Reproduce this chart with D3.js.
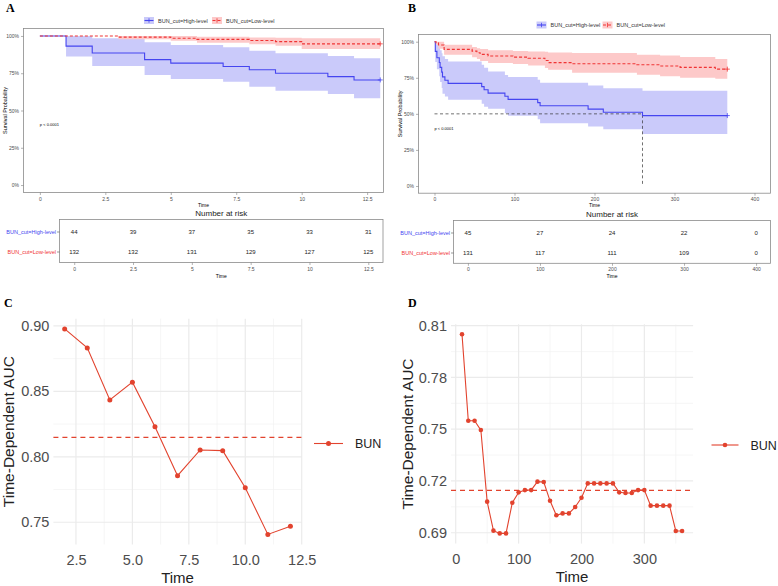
<!DOCTYPE html>
<html>
<head>
<meta charset="utf-8">
<style>
body { margin: 0; background: #fff; }
text { font-family: "Liberation Sans", Arial, sans-serif; }
.letter { font-family: "Liberation Serif", serif; font-weight: bold; font-size: 12px; fill: #000; }
.km .tick text { font-size: 5px; fill: #4d4d4d; }
.km .tick line { stroke: #7f7f7f; stroke-width: 0.6px; }
.km .domain { display: none; }
.auc .tick text { font-size: 14.5px; fill: #4d4d4d; }
.auc .tick line, .auc .domain { display: none; }
</style>
<title></title></head>
<body>
<script src="https://cdn.jsdelivr.net/npm/d3@7/dist/d3.min.js"></script>
<script>

// ---------- panel A: Kaplan-Meier, time in years ----------
var aHighTime  = [0, 1, 2, 4, 5, 7, 8, 9, 11, 12, 13];
var aHighSurv  = [1, 0.932, 0.886, 0.841, 0.818, 0.795, 0.773, 0.750, 0.727, 0.705, 0.705];
var aHighLower = [1, 0.862, 0.799, 0.738, 0.711, 0.693, 0.660, 0.633, 0.611, 0.582, 0.582];
var aHighUpper = [1, 1.000, 0.984, 0.958, 0.940, 0.924, 0.901, 0.884, 0.866, 0.850, 0.850];

var aLowTime  = [0, 3, 5, 6, 8, 9, 10, 13];
var aLowSurv  = [1, 0.992, 0.985, 0.977, 0.970, 0.962, 0.947, 0.947];
var aLowLower = [1, 0.978, 0.968, 0.955, 0.945, 0.935, 0.912, 0.912];
var aLowUpper = [1, 1.000, 1.000, 0.995, 0.990, 0.988, 0.984, 0.984];

var aTicks = [0, 2.5, 5, 7.5, 10, 12.5];
var aRiskHigh = [44, 39, 37, 35, 33, 31];
var aRiskLow  = [132, 132, 131, 129, 127, 125];

// ---------- panel B: Kaplan-Meier, time in days ----------
var bHighTime  = [0, 1, 3, 6, 7, 9, 10, 13, 17, 59, 62, 67, 88, 92, 129, 132, 192, 211, 260, 366];
var bHighSurv  = [1, 0.933, 0.889, 0.856, 0.822, 0.789, 0.756, 0.733, 0.711, 0.689, 0.667, 0.644, 0.622, 0.600, 0.578, 0.556, 0.533, 0.511, 0.488, 0.488];
var bHighLower = [1, 0.860, 0.810, 0.760, 0.720, 0.680, 0.640, 0.620, 0.597, 0.570, 0.550, 0.535, 0.505, 0.486, 0.463, 0.435, 0.412, 0.394, 0.361, 0.361];
var bHighUpper = [1, 1.000, 0.980, 0.960, 0.940, 0.920, 0.900, 0.880, 0.863, 0.840, 0.820, 0.794, 0.770, 0.755, 0.736, 0.715, 0.697, 0.678, 0.660, 0.660];

var bLowTime  = [0, 2, 5, 12, 47, 53, 57, 67, 98, 117, 138, 142, 172, 253, 282, 307, 351, 366];
var bLowSurv  = [1, 0.992, 0.977, 0.947, 0.935, 0.924, 0.912, 0.901, 0.893, 0.885, 0.870, 0.855, 0.847, 0.840, 0.832, 0.822, 0.810, 0.810];
var bLowLower = [1, 0.977, 0.952, 0.909, 0.893, 0.880, 0.866, 0.853, 0.845, 0.835, 0.818, 0.806, 0.785, 0.771, 0.760, 0.750, 0.743, 0.743];
var bLowUpper = [1, 1.000, 1.000, 0.979, 0.963, 0.955, 0.949, 0.940, 0.935, 0.933, 0.930, 0.925, 0.921, 0.909, 0.905, 0.894, 0.880, 0.880];

var bMedian = 260;
var bTicks = [0, 100, 200, 300, 400];
var bRiskHigh = [45, 27, 24, 22, 0];
var bRiskLow  = [131, 117, 111, 109, 0];

var pctTicks = [0, 0.25, 0.5, 0.75, 1];
var groupNames = ["BUN_cut=High-level", "BUN_cut=Low-level"];

// ---------- panel C / D: time-dependent AUC ----------
var cTime = [2, 3, 4, 5, 6, 7, 8, 9, 10, 11, 12];
var cAuc  = [0.8977, 0.8832, 0.8434, 0.8570, 0.8230, 0.7856, 0.8052, 0.8047, 0.7764, 0.7407, 0.7469];
var cTicksX = [2.5, 5.0, 7.5, 10.0, 12.5];
var cTicksY = [0.75, 0.80, 0.85, 0.90];

var dTime = [10, 20, 30, 40, 50, 60, 70, 80, 90, 100, 110, 120, 130, 140, 150, 160, 170, 180,
             190, 200, 210, 220, 230, 240, 250, 260, 270, 280, 290, 300, 310, 320, 330, 340, 350, 360];
var dAuc  = [0.8050, 0.7549, 0.7549, 0.7495, 0.7080, 0.6912, 0.6896, 0.6896, 0.7074, 0.7134, 0.7147, 0.7147,
             0.7196, 0.7194, 0.7085, 0.7001, 0.7012, 0.7012, 0.7049, 0.7103, 0.7186, 0.7186, 0.7186, 0.7186,
             0.7186, 0.7134, 0.7130, 0.7130, 0.7147, 0.7147, 0.7057, 0.7057, 0.7057, 0.7057, 0.6910, 0.6910];
var dTicksX = [0, 100, 200, 300];
var dTicksY = [0.69, 0.72, 0.75, 0.78, 0.81];

var blue = "#4545f0", blueFill = "#cacafa";
var red = "#f03434", redFill = "#fdc9c9";
var aucRed = "#e2432e";

var svg = d3.select("body").append("svg")
    .attr("width", 778)
    .attr("height", 586);

function series(time, surv, lower, upper) {
  return time.map(function(t, i) { return {t: t, s: surv[i], lo: lower[i], hi: upper[i]}; });
}

function drawKM(p) {
  var g = svg.append("g").attr("class", "km");
  var x = d3.scaleLinear().domain(p.xDomain).range(p.xRange);
  var y = d3.scaleLinear().domain([-0.05, 1.05]).range(p.yRange);

  var area = d3.area().curve(d3.curveStepAfter)
      .x(function(d) { return x(d.t); })
      .y0(function(d) { return y(d.lo); })
      .y1(function(d) { return y(d.hi); });
  var line = d3.line().curve(d3.curveStepAfter)
      .x(function(d) { return x(d.t); })
      .y(function(d) { return y(d.s); });

  p.groups.forEach(function(s) {
    g.append("path").datum(s.data).attr("d", area).attr("fill", s.fill);
  });

  if (p.median != null) {
    g.append("path")
      .attr("d", "M" + x(0) + "," + y(0.5) + "H" + x(p.median) + "V" + y(0))
      .attr("fill", "none").attr("stroke", "#333").attr("stroke-width", 0.7)
      .attr("stroke-dasharray", "3,2.5");
  }

  p.groups.forEach(function(s) {
    g.append("path").datum(s.data).attr("d", line)
      .attr("fill", "none").attr("stroke", s.color).attr("stroke-width", 1.1)
      .attr("stroke-dasharray", s.dash);
    var last = s.data[s.data.length - 1];
    g.append("path")
      .attr("d", "M" + (x(last.t) - 2.5) + "," + y(last.s) + "h5M" + x(last.t) + "," + (y(last.s) - 2.5) + "v5")
      .attr("stroke", s.color).attr("stroke-width", 0.8);
  });

  g.append("rect")
    .attr("x", p.xRange[0]).attr("y", p.yRange[1])
    .attr("width", p.xRange[1] - p.xRange[0]).attr("height", p.yRange[0] - p.yRange[1])
    .attr("fill", "none").attr("stroke", "#8a8a8a").attr("stroke-width", 0.8);

  g.append("g").attr("transform", "translate(0," + p.yRange[0] + ")")
    .call(d3.axisBottom(x).tickValues(p.ticks).tickSize(2.5).tickPadding(2).tickFormat(d3.format("")));
  g.append("g").attr("transform", "translate(" + p.xRange[0] + ",0)")
    .call(d3.axisLeft(y).tickValues(pctTicks).tickSize(2.5).tickPadding(2).tickFormat(d3.format(".0%")));

  g.append("text").attr("x", (p.xRange[0] + p.xRange[1]) / 2).attr("y", p.yRange[0] + 14)
    .attr("text-anchor", "middle").style("font-size", "5px").text("Time");
  g.append("text")
    .attr("transform", "translate(" + (p.xRange[0] - 17) + "," + ((p.yRange[0] + p.yRange[1]) / 2) + ") rotate(-90)")
    .attr("text-anchor", "middle").style("font-size", "5.5px").text("Survival Probability");
  g.append("text").attr("x", x(0)).attr("y", p.pY).style("font-size", "4px").text("p < 0.0001");

  // legend on top
  var lg = g.append("g").attr("transform", "translate(" + p.legendX + "," + p.legendY + ")");
  var offs = [0, p.legendGap];
  p.groups.forEach(function(s, i) {
    var k = lg.append("g").attr("transform", "translate(" + offs[i] + ",0)");
    k.append("rect").attr("x", 0).attr("y", -3.5).attr("width", 10).attr("height", 7).attr("fill", s.fill);
    k.append("path").attr("d", "M0.5,0H9.5").attr("stroke", s.color).attr("stroke-width", 1.1).attr("stroke-dasharray", s.dash);
    k.append("path").attr("d", "M5,-2.2V2.2").attr("stroke", s.color).attr("stroke-width", 0.8);
    k.append("text").attr("x", 14).attr("y", 2).style("font-size", "5.5px").attr("fill", "#333").text(groupNames[i]);
  });

  g.append("text").attr("class", "letter").attr("x", p.letterX).attr("y", 12).text(p.letter);
}

function drawRisk(p) {
  var g = svg.append("g").attr("class", "km");
  var x = d3.scaleLinear().domain(p.xDomain).range(p.xRange);
  g.append("rect")
    .attr("x", p.xRange[0]).attr("y", p.top)
    .attr("width", p.xRange[1] - p.xRange[0]).attr("height", p.bottom - p.top)
    .attr("fill", "none").attr("stroke", "#8a8a8a").attr("stroke-width", 0.8);
  g.append("text").attr("x", (p.xRange[0] + p.xRange[1]) / 2).attr("y", p.top - 4)
    .attr("text-anchor", "middle").style("font-size", "8px").attr("fill", "#222").text("Number at risk");

  var rows = [{y: p.top + 12.5, v: p.high, c: blue}, {y: p.top + 32.5, v: p.low, c: red}];
  rows.forEach(function(r, i) {
    g.selectAll(null).data(r.v).enter().append("text")
      .attr("x", function(d, j) { return x(p.times[j]); })
      .attr("y", r.y + 2)
      .attr("text-anchor", "middle").style("font-size", "6px").attr("fill", "#222")
      .text(function(d) { return d; });
    g.append("text").attr("x", p.xRange[0] - 3.5).attr("y", r.y + 1.8)
      .attr("text-anchor", "end").style("font-size", "5.5px").attr("fill", r.c).text(groupNames[i]);
    g.append("line").attr("x1", p.xRange[0] - 2.5).attr("x2", p.xRange[0]).attr("y1", r.y).attr("y2", r.y)
      .attr("stroke", "#555").attr("stroke-width", 0.6);
  });

  g.append("g").attr("transform", "translate(0," + p.bottom + ")")
    .call(d3.axisBottom(x).tickValues(p.times).tickSize(2.5).tickPadding(2).tickFormat(d3.format("")));
  g.append("text").attr("x", (p.xRange[0] + p.xRange[1]) / 2).attr("y", p.bottom + 15)
    .attr("text-anchor", "middle").style("font-size", "5px").text("Time");
}

function drawAUC(p) {
  var g = svg.append("g").attr("class", "auc");
  var x = d3.scaleLinear().domain(p.xDomain).range(p.xRange);
  var y = d3.scaleLinear().domain(p.yDomain).range(p.yRange);

  // minor grid at midpoints of the major breaks
  var mx = [], my = [];
  var stepX = p.ticksX[1] - p.ticksX[0], stepY = p.ticksY[1] - p.ticksY[0];
  for (var v = p.ticksX[0] - stepX / 2; v <= p.xDomain[1] + 1e-9; v += stepX) if (v >= p.xDomain[0]) mx.push(v);
  for (var w = p.ticksY[0] - stepY / 2; w <= p.yDomain[1] + 1e-9; w += stepY) if (w >= p.yDomain[0]) my.push(w);

  g.selectAll(null).data(mx).enter().append("line")
    .attr("x1", x).attr("x2", x).attr("y1", p.yRange[0]).attr("y2", p.yRange[1])
    .attr("stroke", "#f2f2f2").attr("stroke-width", 0.7);
  g.selectAll(null).data(my).enter().append("line")
    .attr("y1", y).attr("y2", y).attr("x1", p.xRange[0]).attr("x2", p.xRange[1])
    .attr("stroke", "#f2f2f2").attr("stroke-width", 0.7);
  g.selectAll(null).data(p.ticksX).enter().append("line")
    .attr("x1", x).attr("x2", x).attr("y1", p.yRange[0]).attr("y2", p.yRange[1])
    .attr("stroke", "#ebebeb").attr("stroke-width", 1.2);
  g.selectAll(null).data(p.ticksY).enter().append("line")
    .attr("y1", y).attr("y2", y).attr("x1", p.xRange[0]).attr("x2", p.xRange[1])
    .attr("stroke", "#ebebeb").attr("stroke-width", 1.2);

  var mean = d3.mean(p.auc);
  g.append("line").attr("x1", p.xRange[0]).attr("x2", p.xRange[1]).attr("y1", y(mean)).attr("y2", y(mean))
    .attr("stroke", aucRed).attr("stroke-width", 1.2).attr("stroke-dasharray", "5,4");

  var pts = p.time.map(function(t, i) { return [t, p.auc[i]]; });
  g.append("path").datum(pts)
    .attr("d", d3.line().x(function(d) { return x(d[0]); }).y(function(d) { return y(d[1]); }))
    .attr("fill", "none").attr("stroke", aucRed).attr("stroke-width", 1.1);
  g.selectAll(null).data(pts).enter().append("circle")
    .attr("cx", function(d) { return x(d[0]); }).attr("cy", function(d) { return y(d[1]); })
    .attr("r", p.r).attr("fill", aucRed);

  g.append("g").attr("transform", "translate(0," + p.yRange[0] + ")")
    .call(d3.axisBottom(x).tickValues(p.ticksX).tickSize(0).tickPadding(10).tickFormat(d3.format(p.fmtX)));
  g.append("g").attr("transform", "translate(" + p.xRange[0] + ",0)")
    .call(d3.axisLeft(y).tickValues(p.ticksY).tickSize(0).tickPadding(4).tickFormat(d3.format(".2f")));

  g.append("text").attr("x", (p.xRange[0] + p.xRange[1]) / 2).attr("y", p.yRange[0] + 38)
    .attr("text-anchor", "middle").style("font-size", "15px").attr("fill", "#222").text("Time");
  g.append("text")
    .attr("transform", "translate(" + p.yTitleX + "," + ((p.yRange[0] + p.yRange[1]) / 2) + ") rotate(-90)")
    .attr("text-anchor", "middle").style("font-size", "15.5px").attr("fill", "#222").text("Time-Dependent AUC");

  var lg = g.append("g").attr("transform", "translate(" + p.legendX + "," + p.legendY + ")");
  lg.append("line").attr("x1", 0).attr("x2", p.keyLen).attr("stroke", aucRed).attr("stroke-width", 1.1);
  lg.append("circle").attr("cx", p.keyLen / 2).attr("r", p.r).attr("fill", aucRed);
  lg.append("text").attr("x", p.keyLen + 12).attr("y", 4.5).style("font-size", "12.5px").attr("fill", "#222").text("BUN");

  g.append("text").attr("class", "letter").attr("x", p.letterX).attr("y", 307).text(p.letter);
}

drawKM({
  letter: "A", letterX: 6,
  xDomain: [-0.625, 13.125], xRange: [23.5, 383.5], yRange: [192.5, 28.5],
  ticks: aTicks, pY: 126, median: null,
  legendX: 144, legendY: 20.5, legendGap: 68,
  groups: [
    {data: series(aHighTime, aHighSurv, aHighLower, aHighUpper), color: blue, fill: blueFill, dash: null},
    {data: series(aLowTime, aLowSurv, aLowLower, aLowUpper), color: red, fill: redFill, dash: "3,2"}
  ]
});
drawRisk({
  xDomain: [-0.625, 13.125], xRange: [59.5, 383], top: 219.5, bottom: 262.5,
  times: aTicks, high: aRiskHigh, low: aRiskLow
});

drawKM({
  letter: "B", letterX: 408,
  xDomain: [-20, 420], xRange: [418.5, 770.5], yRange: [193.2, 34.5],
  ticks: bTicks, pY: 130, median: bMedian,
  legendX: 536.5, legendY: 25, legendGap: 66,
  groups: [
    {data: series(bHighTime, bHighSurv, bHighLower, bHighUpper), color: blue, fill: blueFill, dash: null},
    {data: series(bLowTime, bLowSurv, bLowLower, bLowUpper), color: red, fill: redFill, dash: "3,2"}
  ]
});
drawRisk({
  xDomain: [-20, 420], xRange: [453.5, 770.5], top: 220.5, bottom: 263.3,
  times: bTicks, high: bRiskHigh, low: bRiskLow
});

drawAUC({
  letter: "C", letterX: 4,
  time: cTime, auc: cAuc, r: 2.5,
  xDomain: [1.5, 12.5], xRange: [53.4, 301.7],
  yDomain: [0.733, 0.9055], yRange: [544.5, 318.7],
  ticksX: cTicksX, ticksY: cTicksY, fmtX: ".1f",
  yTitleX: 14, legendX: 314, legendY: 443.5, keyLen: 29
});
drawAUC({
  letter: "D", letterX: 408,
  time: dTime, auc: dAuc, r: 2.3,
  xDomain: [-7.5, 377.5], xRange: [451, 693.1],
  yDomain: [0.6837, 0.8108], yRange: [543.6, 324.3],
  ticksX: dTicksX, ticksY: dTicksY, fmtX: "",
  yTitleX: 413, legendX: 711.5, legendY: 445, keyLen: 27
});

</script>
</body>
</html>
